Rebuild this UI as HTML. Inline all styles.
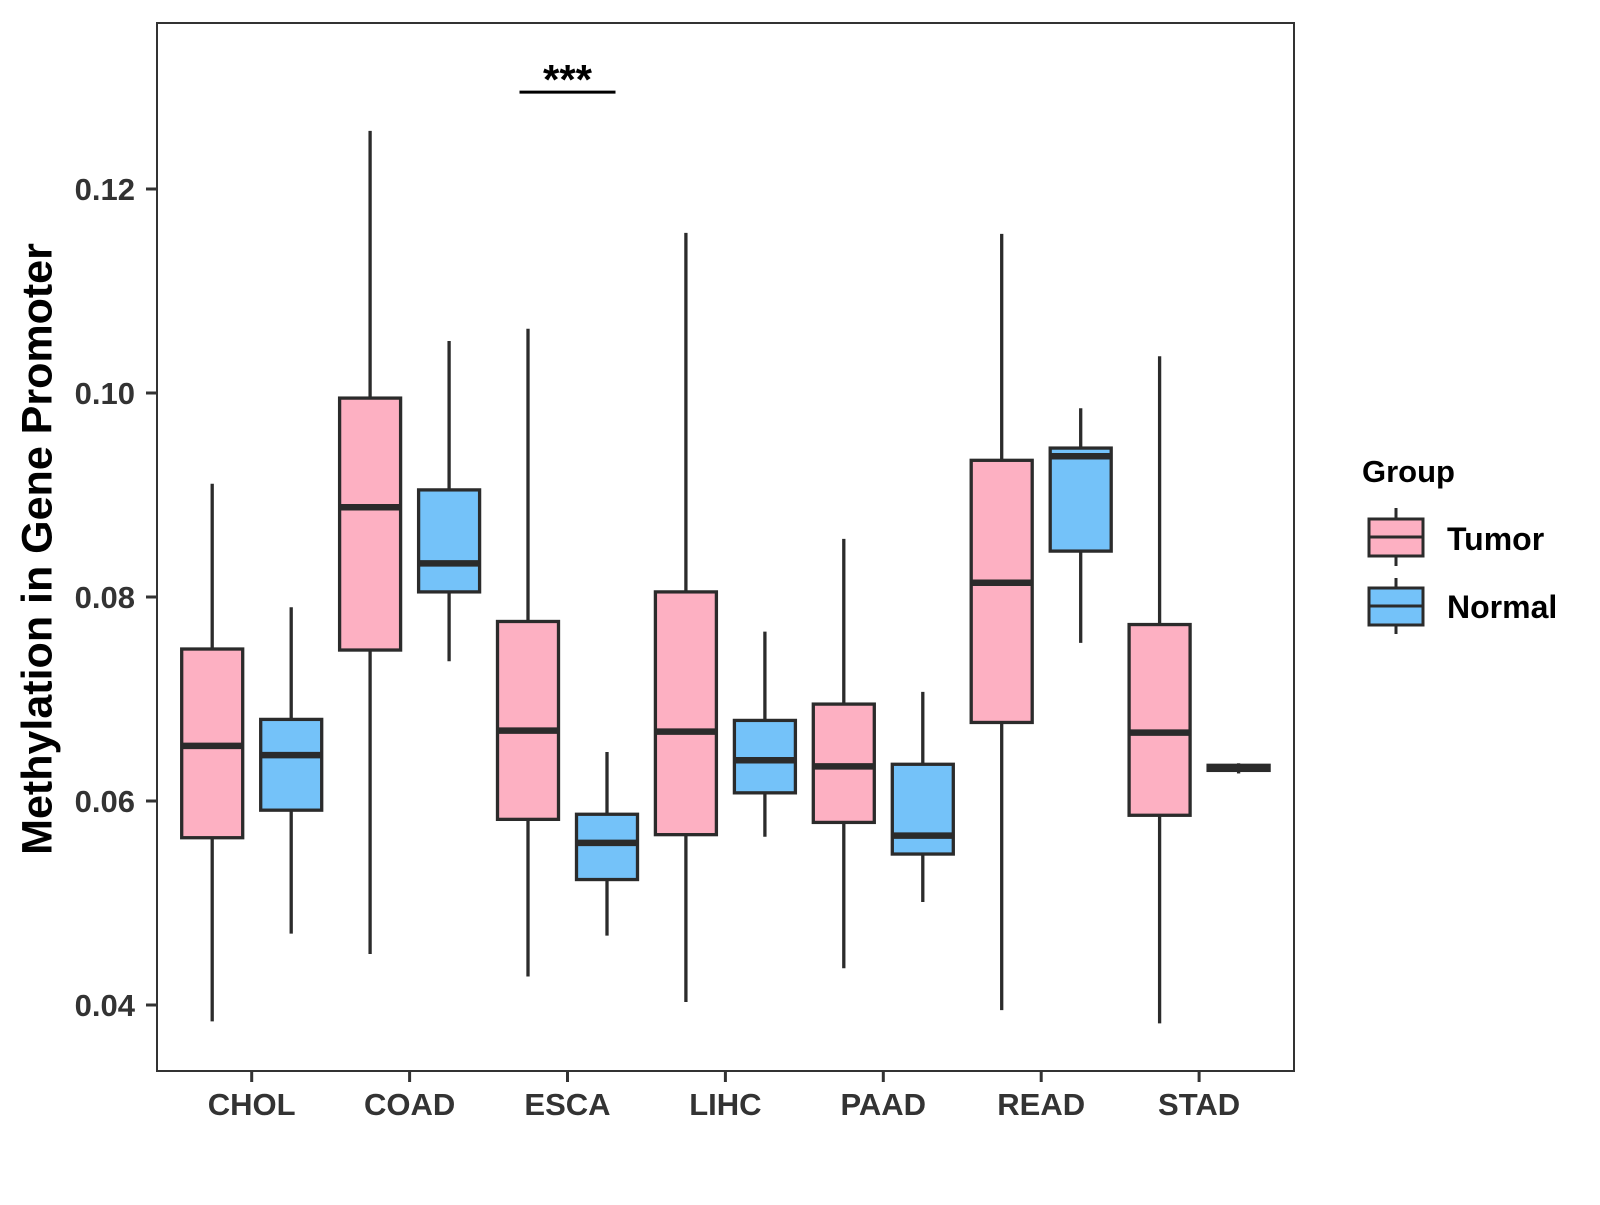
<!DOCTYPE html>
<html><head><meta charset="utf-8"><style>
html,body{margin:0;padding:0;background:#fff;}
svg text{font-family:"Liberation Sans",Arial,sans-serif;font-weight:bold;}
</style></head><body>
<svg id="chart" width="1600" height="1200" viewBox="0 0 1600 1200" xmlns="http://www.w3.org/2000/svg">
<rect x="157" y="23" width="1137" height="1048" fill="#fff" stroke="#333" stroke-width="2"/>
<g id="marks"></g>
<g id="axes"></g>
<text x="40" y="549" font-size="43" fill="#000" text-anchor="middle" dominant-baseline="middle" transform="rotate(-90 40 549)">Methylation in Gene Promoter</text>
<g>
<text x="1362" y="482" font-size="31" fill="#000">Group</text>
<g>
<line x1="1396" y1="508" x2="1396" y2="566" stroke="#2b2b2b" stroke-width="3"/>
<rect x="1369" y="519" width="54" height="37" fill="#FDB0C2" stroke="#2b2b2b" stroke-width="3"/>
<line x1="1369" y1="537" x2="1423" y2="537" stroke="#2b2b2b" stroke-width="3"/>
<text x="1447" y="550" font-size="32" fill="#000">Tumor</text>
</g>
<g>
<line x1="1396" y1="578" x2="1396" y2="634" stroke="#2b2b2b" stroke-width="3"/>
<rect x="1369" y="588" width="54" height="37" fill="#74C2F9" stroke="#2b2b2b" stroke-width="3"/>
<line x1="1369" y1="606" x2="1423" y2="606" stroke="#2b2b2b" stroke-width="3"/>
<text x="1447" y="618" font-size="32" fill="#000">Normal</text>
</g>
</g>
</svg>
<script>
const categories = ["CHOL","COAD","ESCA","LIHC","PAAD","READ","STAD"];
const groups = ["Tumor","Normal"];
// [min, q1, median, q3, max]
const tumorStats = [
 [0.0384,0.0564,0.0654,0.0749,0.0911],
 [0.0450,0.0748,0.0888,0.0995,0.1257],
 [0.0428,0.0582,0.0669,0.0776,0.1063],
 [0.0403,0.0567,0.0668,0.0805,0.1157],
 [0.0436,0.0579,0.0634,0.0695,0.0857],
 [0.0395,0.0677,0.0814,0.0934,0.1156],
 [0.0382,0.0586,0.0667,0.0773,0.1036]
];
const normalStats = [
 [0.0470,0.0591,0.0645,0.0680,0.0790],
 [0.0737,0.0805,0.0833,0.0905,0.1051],
 [0.0468,0.0523,0.0559,0.0587,0.0648],
 [0.0565,0.0608,0.0640,0.0679,0.0766],
 [0.0501,0.0548,0.0566,0.0636,0.0707],
 [0.0755,0.0845,0.0938,0.0946,0.0985],
 [0.0627,0.0630,0.0632,0.0635,0.0637]
];
const yTicks = [0.04,0.06,0.08,0.10,0.12];
const yTickLabels = ["0.04","0.06","0.08","0.10","0.12"];
const sigLabel = "***";
const sigCategory = "ESCA";
const sigValue = 0.1295;

const NS="http://www.w3.org/2000/svg";
const y = v => 189 + (0.12 - v) * 10200;
const x = i => 251.7 + i * 157.9;
const marks = document.getElementById('marks');
const axes = document.getElementById('axes');
function mk(tag, attrs, parent){const e=document.createElementNS(NS,tag);for(const k in attrs)e.setAttribute(k,attrs[k]);parent.appendChild(e);return e;}
const cols = {Tumor:"#FDB0C2", Normal:"#74C2F9"};
const half = 30.5, off = 39.5;
categories.forEach((c,i)=>{
  [tumorStats[i], normalStats[i]].forEach((s,gi)=>{
    const g = groups[gi];
    const cx = x(i) + (gi===0?-off:off);
    const grp = mk('g',{},marks);
    
    
    mk('line',{x1:cx,x2:cx,y1:y(s[4]),y2:y(s[0]),stroke:"#2b2b2b","stroke-width":3.3},grp);
    const top=y(s[3]), bot=y(s[1]);
    mk('rect',{x:cx-half,y:top,width:2*half,height:Math.max(bot-top,1),fill:cols[g],stroke:"#2b2b2b","stroke-width":3.3},grp);
    mk('line',{x1:cx-half,x2:cx+half,y1:y(s[2]),y2:y(s[2]),stroke:"#2b2b2b","stroke-width":6.5},grp);
  });
  const tk = mk('line',{x1:x(i),x2:x(i),y1:1071,y2:1082,stroke:"#333","stroke-width":3},axes);
  
  
  const t = mk('text',{x:x(i),y:1115,"font-size":31,fill:"#333","text-anchor":"middle"},axes);
  t.textContent = c;
  
  
});
yTicks.forEach((v,i)=>{
  const tk = mk('line',{x1:146,x2:157,y1:y(v),y2:y(v),stroke:"#333","stroke-width":3},axes);
  
  
  const t = mk('text',{x:135,y:y(v)+11,"font-size":31,fill:"#333","text-anchor":"end"},axes);
  t.textContent = yTickLabels[i];
  
  
});
const si = categories.indexOf(sigCategory);
const sl = mk('line',{x1:x(si)-48,x2:x(si)+48,y1:y(sigValue),y2:y(sigValue),stroke:"#000","stroke-width":3},marks);


const st = mk('text',{x:x(si),y:y(sigValue)+2,"font-size":42,fill:"#000","text-anchor":"middle"},marks);
st.textContent = sigLabel;


</script>
</body></html>
